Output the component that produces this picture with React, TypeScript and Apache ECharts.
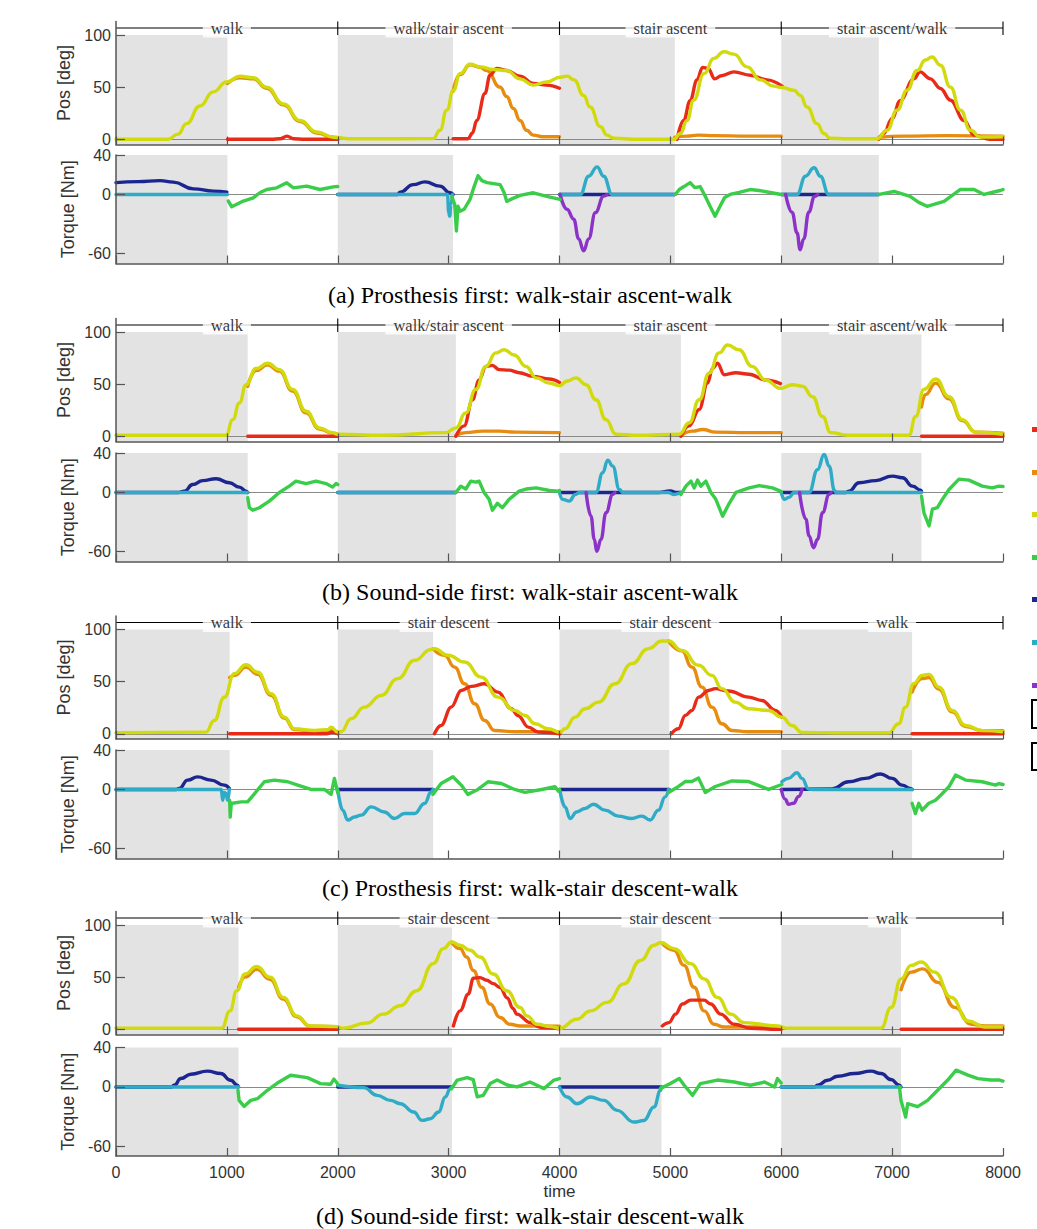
import React, { useEffect, useRef } from 'react';
import * as echarts from 'echarts';

type Pt = [number, number];

// ---------- shared axis / annotation values ----------
const X_MIN = 0;
const X_MAX = 8000;
const X_STEP = 1000;
const POS_TICKS = [0, 50, 100];
const TORQUE_TICKS = [-60, 0, 40];
const POS_MIN = -5;
const POS_MAX = 113;
const POS_SHADE_TOP = 100;
const TORQUE_MIN = -70;
const TORQUE_MAX = 40;
const BRACKET_LEVEL = 106.7;
const BRACKET_EDGES = [2000, 4000, 6000, 8000];
const BRACKET_CENTERS = [1000, 3000, 5000, 7000];
const ascentLabels = ['walk', 'walk/stair ascent', 'stair ascent', 'stair ascent/walk'];
const descentLabels = ['walk', 'stair descent', 'stair descent', 'walk'];
const captions = [
  '(a) Prosthesis first: walk-stair ascent-walk',
  '(b) Sound-side first: walk-stair ascent-walk',
  '(c) Prosthesis first: walk-stair descent-walk',
  '(d) Sound-side first: walk-stair descent-walk',
];

// ---------- panel (a) ----------
const aGray: Pt[] = [[0, 1005], [2000, 3040], [4000, 5040], [6000, 6880]];
const aYellow: Pt[][] = [[[0,0],[470,0],[560,5],[636,15],[757,32],[877,45.5],[998,55],[1118,60.5],[1239,59],[1359,50],[1510,34],[1660,18],[1810,7],[1961,2],[2100,0.5],[2862,0.6],[2922,8.6],[2983,28],[3043,47],[3103,63],[3193,72],[3283,69.5],[3403,67],[3524,66],[3644,58],[3764,52],[3885,55],[4005,59.5],[4068,60.6],[4131,57],[4218,42],[4275,31],[4369,12],[4429,4],[4490,1],[4700,0],[5033,0],[5090,5.5],[5150,18],[5210,37.5],[5304,63],[5392,77.6],[5484,84],[5572,81.7],[5692,69.5],[5812,57],[5932,51],[6007,49.7],[6116,47],[6172,42],[6233,31],[6323,15],[6386,5.5],[6440,1],[6600,0.5],[6864,0.5],[6954,8.6],[7045,28],[7135,47],[7225,66],[7300,76],[7360,79],[7435,71],[7526,50],[7616,28],[7706,8.6],[7796,2.2],[8000,2.5]]];
const aOrange: Pt[][] = [
  [[1005,53.5],[1118,59],[1239,58],[1359,49],[1510,33],[1660,17],[1810,6],[1961,2],[2000,1.5]],
  [[3040,46],[3103,62],[3193,71.5],[3283,69],[3344,66],[3464,50],[3524,41],[3584,29.5],[3644,18],[3704,8.6],[3764,4],[3850,2.5],[4000,2.5]],
  [[5040,2],[5150,3],[5250,4],[5400,3.5],[5700,3],[6000,3]],
  [[6880,2],[7100,3],[7500,3.5],[8000,3]],
];
const aRed: Pt[][] = [
  [[1005,0],[1400,0],[1480,0.5],[1542,3],[1600,0.5],[1700,0],[2000,0]],
  [[3040,0.5],[3175,0.5],[3215,6],[3253,18],[3328,44],[3373,61.5],[3434,68],[3524,66],[3644,60.6],[3764,53.5],[3885,52],[4000,49]],
  [[5060,0],[5120,18],[5178,37],[5240,57],[5290,69],[5340,68],[5400,58],[5460,61],[5574,64.7],[5719,61.5],[5872,57],[6007,51]],
  [[6880,0],[6924,5.5],[7000,20],[7072,37],[7195,58],[7252,64.7],[7345,58],[7436,48.7],[7526,37.5],[7649,18],[7739,4],[7884,0],[8000,0]],
];
const aNavy: Pt[][] = [
  [[0,12],[200,13],[397,14],[517,12.5],[698,5.7],[878,3.4],[1000,2.4]],
  [[2000,0],[2540,0],[2562,2.3],[2681,10],[2787,12.8],[2922,8.4],[3013,1.7],[3040,0]],
  [[4000,0],[5040,0]],
  [[6000,0],[6880,0]],
];
const aCyan: Pt[][] = [
  [[0,0],[1005,0]],
  [[2000,0],[2990,0],[3000,-18],[3010,-22],[3020,-10],[3035,0]],
  [[4000,0],[4188,0],[4263,18.5],[4339,28],[4399,18.5],[4474,0],[5040,0]],
  [[6000,0],[6143,0],[6218,18.5],[6296,27],[6353,18.5],[6428,0],[6880,0]],
];
const aPurple: Pt[][] = [
  [[4005,0],[4068,-15],[4128,-25],[4173,-45],[4218,-57],[4263,-45],[4323,-18.5],[4399,-1.7],[4430,0]],
  [[6040,0],[6097,-18],[6143,-39],[6170,-56],[6203,-45],[6248,-18],[6300,-2],[6330,0]],
];
const aGreen: Pt[][] = [
  [[1013,-6.7],[1044,-12.5],[1148,-6.7],[1238,-3.4],[1300,2],[1360,5],[1450,6.7],[1540,11.8],[1600,6.7],[1720,8.4],[1840,5],[1960,7.7],[2000,8]],
  [[3028,-2],[3055,-10],[3070,-37],[3085,-12],[3103,-17],[3140,-15],[3193,-5],[3230,8],[3265,19],[3300,14],[3346,12],[3464,10],[3500,2],[3524,-7],[3580,-4],[3644,-1],[3764,1.7],[3885,-2],[4005,-5]],
  [[5045,0],[5080,5],[5123,8],[5150,10],[5178,12],[5220,7],[5268,8],[5320,-3],[5358,-12],[5403,-22],[5448,-12],[5490,-3],[5538,0],[5620,2],[5719,5],[5800,4],[5899,2],[6000,0]],
  [[6882,0],[7018,3],[7162,-2],[7240,-8],[7315,-12],[7468,-7],[7613,5],[7739,5],[7829,0],[7900,2],[7974,4],[8000,5]],
];

// ---------- panel (b) ----------
const bGray: Pt[] = [[0, 1188], [2000, 3065], [4000, 5095], [6000, 7265]];
const bYellow: Pt[][] = [[[0,1],[993,1],[1053,16],[1113,32],[1173,49.5],[1263,65],[1368,70],[1473,64],[1593,45],[1714,24],[1834,8],[1953,3.5],[2000,2],[2400,1],[2975,3.5],[3065,8],[3155,22.5],[3245,45],[3335,67],[3426,80],[3501,83],[3591,78],[3699,67],[3789,56],[3909,51],[4000,48.6],[4070,53],[4149,56],[4239,49.5],[4329,35],[4419,16],[4509,2],[4700,1],[5080,2],[5170,13],[5260,35],[5350,60.6],[5440,80],[5516,87.6],[5618,83],[5738,67],[5858,54],[5993,46],[6101,49.5],[6192,48],[6282,38],[6372,19],[6447,3.5],[6600,1],[7152,1],[7212,19],[7287,45],[7393,55],[7513,38],[7633,16],[7753,4],[8000,2]]];
const bOrange: Pt[][] = [
  [[1188,48],[1263,63],[1368,68.5],[1473,62.5],[1593,43.5],[1714,22.5],[1834,7],[1953,3],[2000,2]],
  [[3065,0.5],[3155,3.5],[3305,5],[3455,5],[3605,4],[4000,3.5]],
  [[5095,0.5],[5200,5],[5290,6.5],[5410,4],[5700,3.5],[6000,3.5]],
  [[7265,28],[7300,40],[7393,51],[7513,36],[7633,15],[7753,4],[8000,3]],
];
const bRed: Pt[][] = [
  [[1188,0],[2000,0]],
  [[3065,0],[3140,10],[3215,35],[3275,54],[3335,67],[3395,68],[3455,64],[3545,63.5],[3636,61],[3759,57.5],[3909,55],[4000,51.7]],
  [[5095,0],[5170,10],[5260,25.7],[5335,51],[5380,65],[5425,70],[5486,59],[5591,61],[5711,59.5],[5858,54],[5993,50.5]],
  [[7265,0],[8000,0]],
];
const bNavy: Pt[][] = [
  [[0,0],[560,0],[617,1.3],[692,8],[782,12],[903,13.9],[1023,9.8],[1113,5.4],[1173,1.3],[1188,0]],
  [[2000,0],[3065,0]],
  [[4000,0],[4900,0],[4997,1.5],[5060,0],[5095,0]],
  [[6000,0],[6580,0],[6612,1.3],[6702,9.8],[6852,12],[7002,16.6],[7093,14.9],[7183,6.4],[7258,2.4],[7265,1]],
];
const bCyan: Pt[][] = [
  [[0,0],[1188,0]],
  [[2000,0],[3065,0]],
  [[4000,0],[4029,-7],[4089,-8.8],[4143,-2],[4179,0],[4329,0],[4390,20],[4435,32.8],[4480,26.7],[4540,3],[4570,0],[4980,0],[5030,-2],[5095,0]],
  [[6000,0],[6026,-7],[6071,-5],[6116,0],[6251,0],[6327,23],[6387,38.6],[6432,26.7],[6480,2],[6492,0],[7265,0]],
];
const bPurple: Pt[][] = [
  [[4240,0],[4284,-24],[4314,-47.7],[4336,-59.6],[4374,-47.7],[4419,-20.6],[4480,-2],[4500,0]],
  [[6165,0],[6222,-27],[6251,-44],[6291,-56],[6327,-47.7],[6372,-20.6],[6432,-2],[6450,0]],
];
const bGreen: Pt[][] = [
  [[1188,-5.4],[1203,-15.5],[1233,-18],[1293,-15.5],[1383,-8.8],[1473,0],[1563,6.4],[1623,11.5],[1714,9],[1804,11.5],[1894,9],[1953,5.4],[1984,9],[2000,8]],
  [[3065,0],[3110,6.4],[3155,3.5],[3200,11.5],[3245,10.5],[3275,11.5],[3320,0],[3365,-7],[3395,-18],[3440,-11],[3485,-15.5],[3545,-7],[3636,1.3],[3699,3.5],[3789,4.6],[3909,2],[3985,1.3],[4000,2]],
  [[5095,-2],[5140,6.4],[5185,11.5],[5215,4.6],[5245,12.5],[5275,6.4],[5320,11.5],[5365,0],[5410,-7],[5471,-24],[5531,-11],[5591,0],[5711,4.6],[5801,7],[5921,4.6],[5993,1.3],[6000,1]],
  [[7265,-3.7],[7287,-20.6],[7333,-34],[7363,-17],[7408,-15.5],[7453,-7],[7513,3],[7603,13.5],[7693,12.5],[7813,6.4],[7903,4.6],[7963,6.4],[8000,6]],
];

// ---------- panel (c) ----------
const cGray: Pt[] = [[0, 1025], [2000, 2860], [4000, 4990], [6000, 7180]];
const cYellow: Pt[][] = [[[0,1],[811,1.6],[886,12.8],[977,35],[1067,57.7],[1172,66.3],[1278,59],[1398,38.5],[1519,16],[1609,4.8],[1790,3.2],[1910,4],[1940,6.4],[2000,1.6],[2030,2],[2120,14.4],[2240,25.6],[2391,36.8],[2541,52.9],[2693,70.5],[2842,80.8],[2872,81.7],[2994,75.3],[3144,68.8],[3294,54.4],[3445,35.2],[3596,22.4],[3689,17.6],[3779,9.6],[3900,4.8],[4005,1.6],[4050,4.8],[4140,16],[4231,24],[4351,30.4],[4501,48],[4652,67.3],[4802,81.7],[4923,89],[4983,89],[5104,80],[5254,65.7],[5375,56],[5465,43.3],[5585,30.4],[5706,24],[5886,22.4],[6006,16],[6097,8],[6187,1.3],[6500,1],[6969,1],[7060,9.6],[7120,25.6],[7195,48],[7271,56],[7331,57],[7421,44.8],[7542,22.4],[7662,8],[7813,3],[8000,2]]];
const cOrange: Pt[][] = [
  [[1025,54],[1067,56],[1172,64],[1278,57],[1398,37],[1519,15],[1609,4],[1790,2.5],[1910,3],[2000,2]],
  [[2860,81.5],[2963,75.3],[3054,64],[3144,48],[3235,28.8],[3324,12.8],[3415,3.2],[3600,2],[4005,2]],
  [[4983,89],[5104,79.6],[5194,64],[5285,44.8],[5375,25.6],[5465,9.6],[5555,3.2],[5700,2],[6000,2]],
  [[7180,40],[7271,53],[7331,54],[7421,43],[7542,21],[7662,7],[7813,3],[8000,3]],
];
const cRed: Pt[][] = [
  [[1025,0],[1900,0],[1950,1.5],[2000,0]],
  [[2872,0],[2932,8],[3023,25.6],[3114,41.6],[3204,45.5],[3324,48],[3445,40],[3565,24],[3625,17.6],[3719,6.4],[3809,1.6],[4005,0]],
  [[5007,0],[5073,4.8],[5134,17.6],[5194,22.4],[5254,35.2],[5344,41.6],[5405,43.3],[5525,41],[5706,35.2],[5826,32],[5947,22.4],[6006,16]],
  [[7180,0],[8000,0]],
];
const cNavy: Pt[][] = [
  [[0,0],[540,0],[571,1],[646,9.5],[736,12.8],[856,9.5],[977,4.4],[1022,1]],
  [[2000,0],[2860,0]],
  [[4000,0],[4990,0]],
  [[6000,0],[6458,0.5],[6608,7.8],[6759,11.2],[6894,15.6],[7000,11.2],[7090,4.4],[7165,1],[7180,0]],
];
const cCyan: Pt[][] = [
  [[0,0],[950,0],[962,-11],[975,-3],[992,-4],[1007,-11],[1022,0]],
  [[2000,0],[2045,-21],[2090,-31],[2151,-28],[2211,-26],[2301,-17.7],[2421,-22.8],[2512,-29.5],[2602,-24.4],[2693,-24.4],[2783,-14.2],[2843,-2.4],[2860,0]],
  [[4005,-1.7],[4050,-17.7],[4095,-29.5],[4155,-22.8],[4231,-19.3],[4306,-15],[4411,-21],[4531,-27],[4652,-29.5],[4742,-27],[4817,-31],[4893,-21],[4953,-7.5],[4983,0]],
  [[6006,7.8],[6066,11.2],[6142,17],[6187,11.2],[6247,0.5],[6300,0],[7180,0]],
];
const cPurple: Pt[][] = [
  [[6000,0],[6036,-10],[6066,-15],[6111,-14],[6157,-7],[6187,0]],
];
const cGreen: Pt[][] = [
  [[1025,-11],[1030,-28],[1040,-14],[1052,-14],[1127,-12.6],[1187,-12.6],[1248,-4.4],[1338,7.8],[1428,9.5],[1549,7.8],[1639,4.4],[1759,0],[1880,0],[1940,-5],[1970,11.2],[2000,-3.4]],
  [[2858,-5],[2932,6],[3039,12.8],[3114,4.4],[3174,-5],[3264,0],[3355,7.8],[3475,6],[3596,0],[3689,-3],[3839,0],[3960,2.7],[3990,-1.7],[4000,0]],
  [[4983,-3],[5073,3],[5134,8],[5194,8],[5254,11.5],[5315,-3],[5405,3],[5555,8.6],[5706,8],[5886,0],[6006,5]],
  [[7180,-14],[7210,-24.4],[7240,-14],[7271,-21],[7331,-14],[7391,-11],[7451,-4.4],[7512,2.7],[7572,14.6],[7662,9.5],[7813,7.8],[7933,4.4],[7963,6],[8000,5]],
];

// ---------- panel (d) ----------
const dGray: Pt[] = [[0, 1105], [2000, 3030], [4000, 4920], [6000, 7080]];
const dYellow: Pt[][] = [[[0,1],[953,1],[1028,17.7],[1089,37],[1164,53],[1269,60.3],[1389,50],[1509,30.6],[1630,12.9],[1750,3.2],[1991,2.6],[2050,1],[2261,6],[2411,14.5],[2562,22.6],[2712,37],[2862,63],[2952,77.4],[3028,83.8],[3103,80.6],[3193,75.8],[3283,69.3],[3403,53],[3524,37],[3644,21],[3706,12.9],[3797,4.8],[3917,2.6],[4000,1],[4158,9.7],[4279,17.7],[4430,25.8],[4581,43.6],[4731,66],[4852,80.6],[4912,83.2],[5033,77.4],[5183,63],[5304,48.4],[5424,30.6],[5545,14.5],[5665,6.4],[5966,3.2],[6050,1],[6900,1],[6991,21],[7081,48.4],[7171,61.3],[7262,64.5],[7383,54.8],[7533,30.6],[7684,8],[7835,2.2],[8000,2.2]]];
const dOrange: Pt[][] = [
  [[1105,40],[1164,50],[1269,57.5],[1389,48],[1509,29],[1630,12],[1750,3],[2000,2.5]],
  [[3028,83.5],[3103,77.4],[3163,69.3],[3223,56.4],[3298,40.3],[3374,24.2],[3464,11.3],[3554,4.8],[3644,3.2],[4000,3]],
  [[4920,83],[5033,75.8],[5123,61.3],[5214,40.3],[5304,17.7],[5394,4.8],[5485,2.2],[6000,2.2]],
  [[7081,38],[7171,54.8],[7277,58],[7413,45],[7564,21],[7714,4.8],[7835,3.2],[8000,3.2]],
];
const dRed: Pt[][] = [
  [[1105,0],[2000,0]],
  [[3043,3.2],[3103,17.7],[3178,33.9],[3223,49],[3283,49.6],[3344,47],[3403,43.8],[3464,40],[3530,30],[3580,20],[3616,14.5],[3736,6.4],[3827,2],[4000,0.5]],
  [[4927,3.2],[4987,6.4],[5047,14.5],[5108,24.2],[5183,28],[5304,28],[5364,24.2],[5454,14.5],[5575,4.8],[5725,1],[5966,0],[6000,0]],
  [[7081,0],[8000,0]],
];
const dNavy: Pt[][] = [
  [[0,0],[500,0],[525,1.7],[585,8.5],[675,12.9],[825,16],[945,13.6],[1035,6.8],[1095,1.7],[1105,0]],
  [[2000,0],[3030,0]],
  [[4000,0],[4920,0]],
  [[6000,0],[6300,0],[6328,1.7],[6418,6.8],[6509,10.9],[6660,13.6],[6810,16],[6900,13.6],[6991,7.5],[7066,1.7],[7080,0]],
];
const dCyan: Pt[][] = [
  [[0,0],[1105,0]],
  [[2000,1.7],[2235,-0.7],[2355,-8.5],[2475,-13.6],[2565,-17],[2685,-25.4],[2760,-33.9],[2835,-32.2],[2910,-25.4],[2970,-10.2],[3015,-1.7],[3030,0]],
  [[4000,0],[4068,-10.2],[4158,-17],[4279,-10.2],[4400,-13.6],[4520,-23.7],[4671,-35.6],[4761,-34],[4852,-20.3],[4912,-3.4],[4920,0]],
  [[6000,0],[7080,0]],
];
const dPurple: Pt[][] = [];
const dGreen: Pt[][] = [
  [[1100,-3.4],[1110,-13.6],[1155,-19.7],[1215,-13.6],[1275,-11.9],[1365,-3.4],[1455,4],[1575,11.9],[1725,9.5],[1845,3.4],[1935,2.7],[1965,8],[2000,3]],
  [[3025,-2],[3078,7],[3168,9.5],[3222,7.5],[3258,-10],[3312,-8.5],[3375,3.4],[3438,7],[3528,2],[3618,0],[3734,5],[3860,-1.7],[3950,7],[4000,8.5]],
  [[4910,-1.7],[5000,3.4],[5080,8.5],[5125,1.7],[5200,-8.5],[5270,3.4],[5425,7],[5577,5],[5722,1.7],[5850,5],[5940,0],[5966,8.5],[6000,4]],
  [[7066,0],[7080,-13.6],[7122,-30.5],[7140,-17],[7230,-20],[7320,-13.6],[7410,-3.4],[7502,7],[7577,17],[7684,12],[7774,8.5],[7890,7],[7970,7],[8000,6]],
];

// ---------- styling ----------
const COLORS = {
  red: '#ea2a18',
  orange: '#e88c10',
  yellow: '#d0da0c',
  green: '#3acd49',
  navy: '#1b2690',
  cyan: '#2eabc6',
  purple: '#8b32c8',
  shade: '#e3e3e3',
  axis: '#555555',
  text: '#333333',
};
const LEGEND_ORDER = ['red', 'orange', 'yellow', 'green', 'navy', 'cyan', 'purple'];
const LEGEND_Y = [429, 472, 514, 557, 599, 642, 685];

const LEFT = 116;
const WIDTH = 887;
const POS_TOP = [21.5, 318.5, 616, 911.5];
const POS_H = 123;
const TQ_TOP = [155, 453, 750, 1047.5];
const TQ_H = 108.5;
const CAPTION_Y = [295, 592, 888, 1216];
const CAPTION_FONT = 24;
const SANS = '"Liberation Sans", Arial, sans-serif';
const SERIF = '"Liberation Serif", "Times New Roman", serif';
const LINE_W = 3.4;

const panels = [
  { gray: aGray, labels: ascentLabels, red: aRed, orange: aOrange, yellow: aYellow, green: aGreen, navy: aNavy, cyan: aCyan, purple: aPurple },
  { gray: bGray, labels: ascentLabels, red: bRed, orange: bOrange, yellow: bYellow, green: bGreen, navy: bNavy, cyan: bCyan, purple: bPurple },
  { gray: cGray, labels: descentLabels, red: cRed, orange: cOrange, yellow: cYellow, green: cGreen, navy: cNavy, cyan: cCyan, purple: cPurple },
  { gray: dGray, labels: descentLabels, red: dRed, orange: dOrange, yellow: dYellow, green: dGreen, navy: dNavy, cyan: dCyan, purple: dPurple },
];

function joinSegs(segs: Pt[][]) {
  const out: any[] = [];
  segs.forEach((s, i) => {
    if (i > 0) out.push([s[0][0], '-']);
    s.forEach((p) => out.push([p[0], p[1]]));
  });
  return out;
}

function bracketData() {
  const d: any[] = [[X_MIN, BRACKET_LEVEL], [X_MAX, BRACKET_LEVEL]];
  BRACKET_EDGES.forEach((x) => {
    d.push([x, '-']);
    d.push([x, POS_SHADE_TOP]);
    d.push([x, POS_MAX]);
  });
  return d;
}

function curve(color: string, segs: Pt[][], gi: number, smooth: number | boolean, z = 3) {
  return {
    type: 'line',
    xAxisIndex: gi,
    yAxisIndex: gi,
    data: joinSegs(segs),
    symbol: 'none',
    showSymbol: false,
    smooth,
    smoothMonotone: 'x',
    connectNulls: false,
    lineStyle: { color, width: LINE_W, cap: 'round', join: 'round' },
    itemStyle: { color },
    z,
    silent: true,
  };
}

function zeroLine() {
  return {
    silent: true,
    symbol: ['none', 'none'],
    z: 1,
    label: { show: false },
    lineStyle: { color: '#8a8a8a', width: 1.2, type: 'solid' },
    data: [{ yAxis: 0 }],
  };
}

function buildOption() {
  const grid: any[] = [];
  const xAxis: any[] = [];
  const yAxis: any[] = [];
  const series: any[] = [];

  panels.forEach((p, k) => {
    const gp = 2 * k;
    const gt = 2 * k + 1;
    grid.push({ left: LEFT, width: WIDTH, top: POS_TOP[k], height: POS_H });
    grid.push({ left: LEFT, width: WIDTH, top: TQ_TOP[k], height: TQ_H });

    [gp, gt].forEach((gi) => {
      const last = gi === 7;
      xAxis.push({
        gridIndex: gi,
        type: 'value',
        min: X_MIN,
        max: X_MAX,
        interval: X_STEP,
        z: 5,
        axisLine: { show: true, onZero: false, lineStyle: { color: COLORS.axis, width: 1.5 } },
        axisTick: { show: true, inside: true, length: 8, lineStyle: { color: COLORS.axis, width: 1.2 } },
        axisLabel: {
          show: last,
          fontSize: 16,
          fontFamily: SANS,
          color: COLORS.text,
          margin: 8,
          formatter: (v: number) => String(v),
        },
        splitLine: { show: false },
        name: last ? 'time' : '',
        nameLocation: 'middle',
        nameGap: 27,
        nameTextStyle: { fontSize: 17, fontFamily: SANS, color: COLORS.text },
      });
    });

    yAxis.push({
      gridIndex: gp,
      type: 'value',
      min: POS_MIN,
      max: POS_MAX,
      z: 5,
      axisLine: { show: true, onZero: false, lineStyle: { color: COLORS.axis, width: 1.5 } },
      axisTick: { show: true, inside: true, length: 9, customValues: POS_TICKS, lineStyle: { color: COLORS.axis, width: 1.2 } },
      axisLabel: { customValues: POS_TICKS, fontSize: 16, fontFamily: SANS, color: COLORS.text, margin: 5 },
      splitLine: { show: false },
      name: 'Pos [deg]',
      nameLocation: 'middle',
      nameGap: 35,
      nameTextStyle: { fontSize: 18, fontFamily: SANS, color: COLORS.text },
    });
    yAxis.push({
      gridIndex: gt,
      type: 'value',
      min: TORQUE_MIN,
      max: TORQUE_MAX,
      z: 5,
      axisLine: { show: true, onZero: false, lineStyle: { color: COLORS.axis, width: 1.5 } },
      axisTick: { show: true, inside: true, length: 9, customValues: TORQUE_TICKS, lineStyle: { color: COLORS.axis, width: 1.2 } },
      axisLabel: { customValues: TORQUE_TICKS, fontSize: 16, fontFamily: SANS, color: COLORS.text, margin: 5 },
      splitLine: { show: false },
      name: 'Torque [Nm]',
      nameLocation: 'middle',
      nameGap: 35,
      nameTextStyle: { fontSize: 18, fontFamily: SANS, color: COLORS.text },
    });

    // bracket line + shading + zero line (pos grid)
    series.push({
      type: 'line',
      xAxisIndex: gp,
      yAxisIndex: gp,
      data: bracketData(),
      symbol: 'none',
      showSymbol: false,
      connectNulls: false,
      lineStyle: { color: '#000', width: 1.1 },
      silent: true,
      z: 2,
      markArea: {
        silent: true,
        z: 0,
        itemStyle: { color: COLORS.shade },
        data: p.gray.map(([s, e]) => [{ xAxis: s, yAxis: POS_MIN }, { xAxis: e, yAxis: POS_SHADE_TOP }]),
      },
      markLine: zeroLine(),
    });
    // bracket labels
    series.push({
      type: 'scatter',
      xAxisIndex: gp,
      yAxisIndex: gp,
      symbolSize: 1,
      itemStyle: { color: 'transparent' },
      silent: true,
      z: 4,
      data: BRACKET_CENTERS.map((x, i) => ({ value: [x, BRACKET_LEVEL], name: p.labels[i] })),
      label: {
        show: true,
        position: 'inside',
        formatter: '{b}',
        fontFamily: SERIF,
        fontSize: 16.5,
        color: '#000',
        backgroundColor: '#fff',
        padding: [1, 8],
      },
    });
    // torque frame: shading + zero line
    series.push({
      type: 'line',
      xAxisIndex: gt,
      yAxisIndex: gt,
      data: [],
      silent: true,
      z: 1,
      markArea: {
        silent: true,
        z: 0,
        itemStyle: { color: COLORS.shade },
        data: p.gray.map(([s, e]) => [{ xAxis: s, yAxis: TORQUE_MIN }, { xAxis: e, yAxis: TORQUE_MAX }]),
      },
      markLine: zeroLine(),
    });

    // position curves
    series.push(curve(COLORS.orange, p.orange, gp, 0.5));
    series.push(curve(COLORS.red, p.red, gp, 0.4));
    series.push(curve(COLORS.yellow, p.yellow, gp, 0.5));
    // torque curves
    series.push(curve(COLORS.navy, p.navy, gt, 0.5));
    series.push(curve(COLORS.cyan, p.cyan, gt, 0.45));
    if (p.purple.length) series.push(curve(COLORS.purple, p.purple, gt, 0.45));
    series.push(curve(COLORS.green, p.green, gt, false));
  });

  const graphic: any[] = [];
  captions.forEach((t, i) => {
    graphic.push({
      type: 'text',
      x: 530,
      y: CAPTION_Y[i],
      silent: true,
      style: {
        text: t,
        font: `${CAPTION_FONT}px ${SERIF}`,
        fill: '#000',
        textAlign: 'center',
        textVerticalAlign: 'middle',
        align: 'center',
        verticalAlign: 'middle',
      },
    });
  });
  LEGEND_ORDER.forEach((c, i) => {
    graphic.push({
      type: 'rect',
      silent: true,
      shape: { x: 1032, y: LEGEND_Y[i] - 2, width: 8, height: 5 },
      style: { fill: (COLORS as any)[c] },
    });
  });
  graphic.push({ type: 'rect', silent: true, shape: { x: 1032, y: 700, width: 20, height: 28 }, style: { fill: '#fff', stroke: '#000', lineWidth: 2 } });
  graphic.push({ type: 'rect', silent: true, shape: { x: 1032, y: 743, width: 20, height: 27 }, style: { fill: '#fff', stroke: '#000', lineWidth: 2 } });

  return {
    animation: false,
    backgroundColor: '#ffffff',
    grid,
    xAxis,
    yAxis,
    series,
    graphic,
  };
}

export default function App() {
  const ref = useRef<HTMLDivElement>(null);
  useEffect(() => {
    if (!ref.current) return;
    const chart = echarts.init(ref.current, undefined, { renderer: 'svg' });
    chart.setOption(buildOption() as any);
    return () => chart.dispose();
  }, []);
  return (
    <div
      ref={ref}
      style={{ position: 'absolute', left: 0, top: 0, width: 1037, height: 1229, background: '#fff' }}
    />
  );
}
